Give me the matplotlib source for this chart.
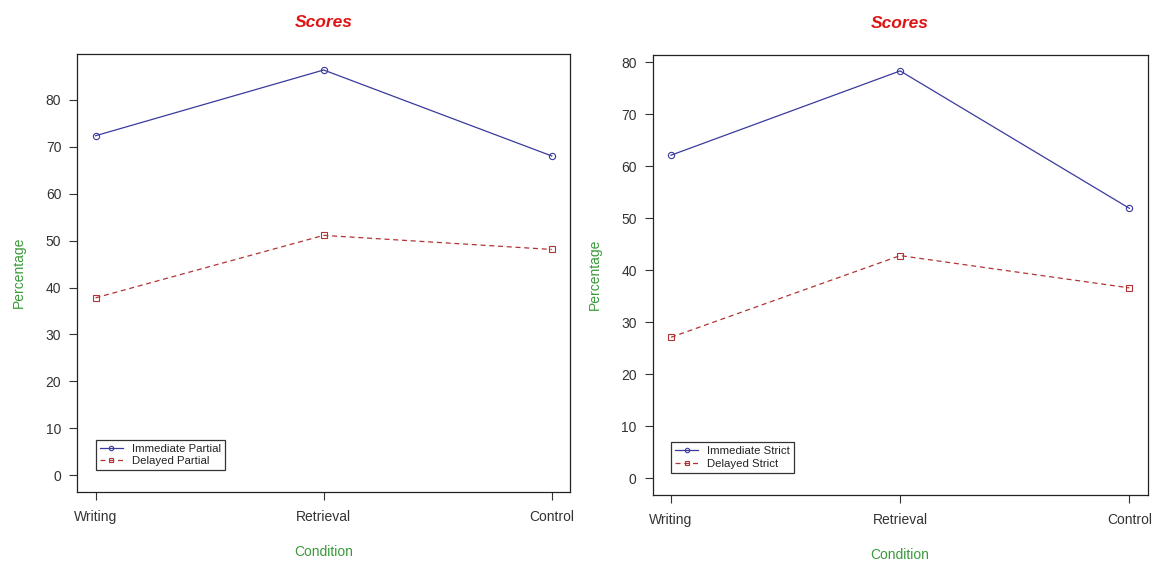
import matplotlib
matplotlib.use("Agg")
import matplotlib.pyplot as plt

# data
conditions = ["Writing", "Retrieval", "Control"]
immediate_partial = [72.3, 86.3, 68.0]
delayed_partial = [37.8, 51.1, 48.1]
immediate_strict = [62.1, 78.3, 51.9]
delayed_strict = [27.1, 42.8, 36.6]

plt.rcParams['font.family'] = ['Liberation Sans', 'DejaVu Sans']

BLUE = '#3a3a9e'
RED = '#b23434'
GREEN = '#3a9a3a'
TXT = '#333333'


def draw_panel(ax, imm, dly, labels):
    x = list(range(len(conditions)))
    ax.plot(x, imm, color=BLUE, lw=0.9, marker='o', ms=4.5, mfc='none', mew=0.8, label=labels[0])
    ax.plot(x, dly, color=RED, lw=0.9, ls=(0, (4, 3)), marker='s', ms=5, mfc='none', mew=0.8, label=labels[1])
    # R style 4% padding
    hi = max(imm + dly)
    ax.set_ylim(-0.04 * hi, hi * 1.04)
    ax.set_xlim(-0.08, 2.08)
    ax.set_xticks(x)
    ax.set_xticklabels(conditions)
    ax.set_yticks(range(0, int(hi * 1.04) + 1, 10))
    ax.tick_params(axis='both', direction='out', length=5.5, width=0.8, colors=TXT, labelsize=10)
    ax.tick_params(axis='y', pad=6)
    ax.tick_params(axis='x', pad=8)
    for s in ax.spines.values():
        s.set_linewidth(0.9)
        s.set_color('#222222')
    ax.set_title("Scores", color='#dd1515', fontsize=12.5, fontweight='bold', style='italic', pad=19)
    ax.set_xlabel("Condition", color=GREEN, fontsize=10, labelpad=15)
    ax.set_ylabel("Percentage", color=GREEN, fontsize=10, labelpad=14)
    leg = ax.legend(loc='lower left', bbox_to_anchor=(0.038, 0.05), borderaxespad=0,
                    fontsize=8.2, frameon=True, fancybox=False, edgecolor='black',
                    handlelength=2.0, handletextpad=0.8, labelspacing=0.2, borderpad=0.35,
                    markerscale=0.7)
    leg.get_frame().set_linewidth(0.9)
    for t in leg.get_texts():
        t.set_color('#222222')


fig = plt.figure(figsize=(11.55, 5.63), dpi=100)
ax1 = fig.add_axes([0.0669, 0.1267, 0.4266, 0.7778])
ax2 = fig.add_axes([0.5651, 0.1215, 0.4285, 0.7815])

draw_panel(ax1, immediate_partial, delayed_partial, ["Immediate Partial", "Delayed Partial"])
draw_panel(ax2, immediate_strict, delayed_strict, ["Immediate Strict", "Delayed Strict"])

fig.savefig("out.png", dpi=100)
